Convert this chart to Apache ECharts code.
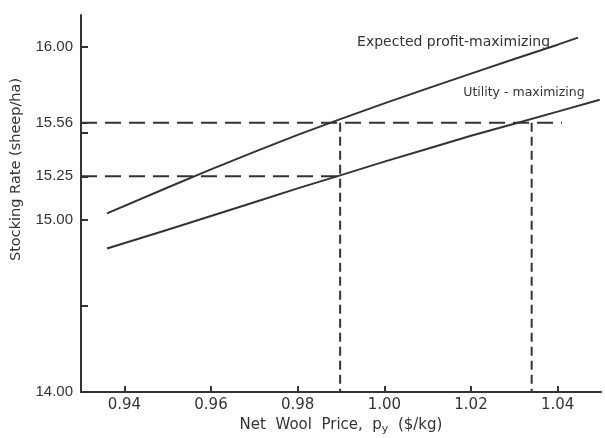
<!DOCTYPE html>
<html>
<head>
<meta charset="utf-8">
<script src="https://cdn.jsdelivr.net/npm/echarts@6/dist/echarts.min.js"></script>
<style>
html,body{margin:0;padding:0;background:#fff;}
#chart{width:605px;height:438px;}
</style>
</head>
<body>
<div id="chart"></div>
<script>
// ---- data ----
var priceExpected = [0.936, 0.95, 0.96, 0.97, 0.98, 0.99, 1.00, 1.01, 1.02, 1.03, 1.04, 1.0447];
var rateExpected  = [15.035, 15.185, 15.29, 15.392, 15.49, 15.583, 15.673, 15.76, 15.845, 15.93, 16.013, 16.054];
var priceUtility  = [0.936, 0.95, 0.96, 0.97, 0.98, 0.99, 1.00, 1.01, 1.02, 1.03, 1.04, 1.0497];
var rateUtility   = [14.832, 14.94, 15.02, 15.10, 15.18, 15.257, 15.335, 15.41, 15.485, 15.555, 15.625, 15.694];
var xTickValues   = [0.94, 0.96, 0.98, 1.00, 1.02, 1.04];
var yTickValues   = [14.0, 14.5, 15.0, 15.25, 15.5, 15.56, 16.0];
var yLabelValues  = [14.0, 15.0, 15.25, 15.56, 16.0];
var optimumRates  = [15.56, 15.25];
var optimumPrices = [0.9898, 1.034];
var hLineEnds     = [1.041, 0.9898];
var seriesNames   = ['Expected profit-maximizing', 'Utility - maximizing'];

var xMin = 0.93, xMax = 1.05, yMin = 14.0, yMax = 16.185;
var ink = '#333333';
var font = 'Liberation Sans';
var wide = 'DejaVu Sans';

function zip(a, b){ return a.map(function(v,i){ return [v, b[i]]; }); }

var dashSeries = [];
// horizontal dashed lines
optimumRates.forEach(function(r, i){
  dashSeries.push({
    type:'line', data:[[xMin, r],[hLineEnds[i], r]], symbol:'none', silent:true,
    lineStyle:{color:ink, width:2, type:[16,8]}, z:2
  });
});
// vertical dashed lines
optimumPrices.forEach(function(p){
  dashSeries.push({
    type:'line', data:[[p, optimumRates[0]],[p, yMin]], symbol:'none', silent:true,
    lineStyle:{color:ink, width:2, type:[9,5]}, z:2
  });
});

var chart = echarts.init(document.getElementById('chart'));
chart.setOption({
  animation:false,
  backgroundColor:'#fff',
  textStyle:{fontFamily:font, color:ink},
  grid:{left:81, right:4, top:15, bottom:46, containLabel:false, outerBoundsMode:'none'},
  xAxis:{
    type:'value', min:xMin, max:xMax,
    name:'Net  Wool  Price,  {i|p}{s|y}  ($/kg)',
    nameLocation:'middle', nameGap:19,
    nameTextStyle:{fontFamily:wide, fontSize:15, color:ink,
      rich:{i:{fontFamily:wide, fontSize:15, color:ink}, s:{fontFamily:wide, fontSize:11, color:ink, padding:[8,0,0,0]}}},
    axisLine:{show:true, onZero:false, lineStyle:{color:ink, width:2}},
    axisTick:{show:true, inside:true, length:6, lineStyle:{color:ink, width:2}, customValues:xTickValues},
    axisLabel:{show:true, margin:6, fontSize:15, color:ink, fontFamily:wide, customValues:xTickValues,
      formatter:function(v){ return v.toFixed(2); }},
    splitLine:{show:false}
  },
  yAxis:{
    type:'value', min:yMin, max:yMax,
    name:'Stocking Rate (sheep/ha)',
    nameLocation:'middle', nameGap:57,
    nameTextStyle:{fontFamily:wide, fontSize:14.5, color:ink, padding:[0,0,0,68]},
    axisLine:{show:true, onZero:false, lineStyle:{color:ink, width:2}},
    axisTick:{show:true, inside:true, length:7, lineStyle:{color:ink, width:2}, customValues:yTickValues},
    axisLabel:{show:true, margin:8, fontSize:15, color:ink, fontFamily:font, customValues:yLabelValues,
      formatter:function(v){ return v.toFixed(2); }},
    splitLine:{show:false}
  },
  series:[
    {
      name:seriesNames[0], type:'line', data:zip(priceExpected, rateExpected),
      symbol:'none', smooth:false, lineStyle:{color:ink, width:2}, z:3,
      markPoint:{symbol:'circle', symbolSize:0, silent:true,
        data:[{coord:[priceExpected[priceExpected.length-1], rateExpected[rateExpected.length-1]]}],
        label:{show:true, position:'inside', align:'right', verticalAlign:'middle', offset:[-28,5],
          formatter:seriesNames[0], fontFamily:wide, fontSize:14, color:ink}}
    },
    {
      name:seriesNames[1], type:'line', data:zip(priceUtility, rateUtility),
      symbol:'none', smooth:false, lineStyle:{color:ink, width:2}, z:3,
      markPoint:{symbol:'circle', symbolSize:0, silent:true,
        data:[{coord:[priceUtility[priceUtility.length-1], rateUtility[rateUtility.length-1]]}],
        label:{show:true, position:'inside', align:'right', verticalAlign:'middle', offset:[-15,-7],
          formatter:seriesNames[1], fontFamily:wide, fontSize:12.5, color:ink}}
    }
  ].concat(dashSeries)
});
</script>
</body>
</html>
